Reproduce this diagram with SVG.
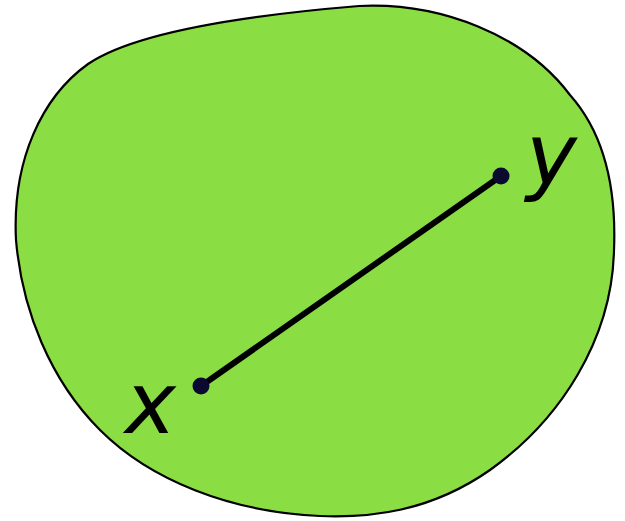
<svg xmlns="http://www.w3.org/2000/svg" width="625" height="521" viewBox="0 0 625 521">
  <style>
    .region { fill: #8ade44; stroke: #000; stroke-width: 2.2; }
    .seg { stroke: #000; stroke-width: 6; stroke-linecap: round; }
    .pt { fill: #0a0a30; }
    .lbl { font-family: "DejaVu Sans", sans-serif; font-style: italic; font-size: 86px; fill: #000; }
  </style>
  <rect width="625" height="521" fill="#ffffff"/>
  <g id="set">
    <path class="region" d="M 359,6 C 440,2 525,35 570,95 C 610,140 616,200 614,250 C 612,340 560,420 490,470 C 430,512 370,518 320,516 C 230,512 150,480 100,430 C 50,380 22,310 16,240 C 12,160 42,97 88,64 C 135,32 250,15 359,6 Z"/>
  </g>
  <g id="connectors">
    <line class="seg" x1="201" y1="386" x2="501" y2="176"/>
  </g>
  <g id="point-x">
    <circle class="pt" cx="201" cy="386" r="8.5"/>
    <text class="lbl" x="125" y="433">x</text>
  </g>
  <g id="point-y">
    <circle class="pt" cx="501" cy="176" r="8.5"/>
    <text class="lbl" x="526" y="184">y</text>
  </g>
</svg>
